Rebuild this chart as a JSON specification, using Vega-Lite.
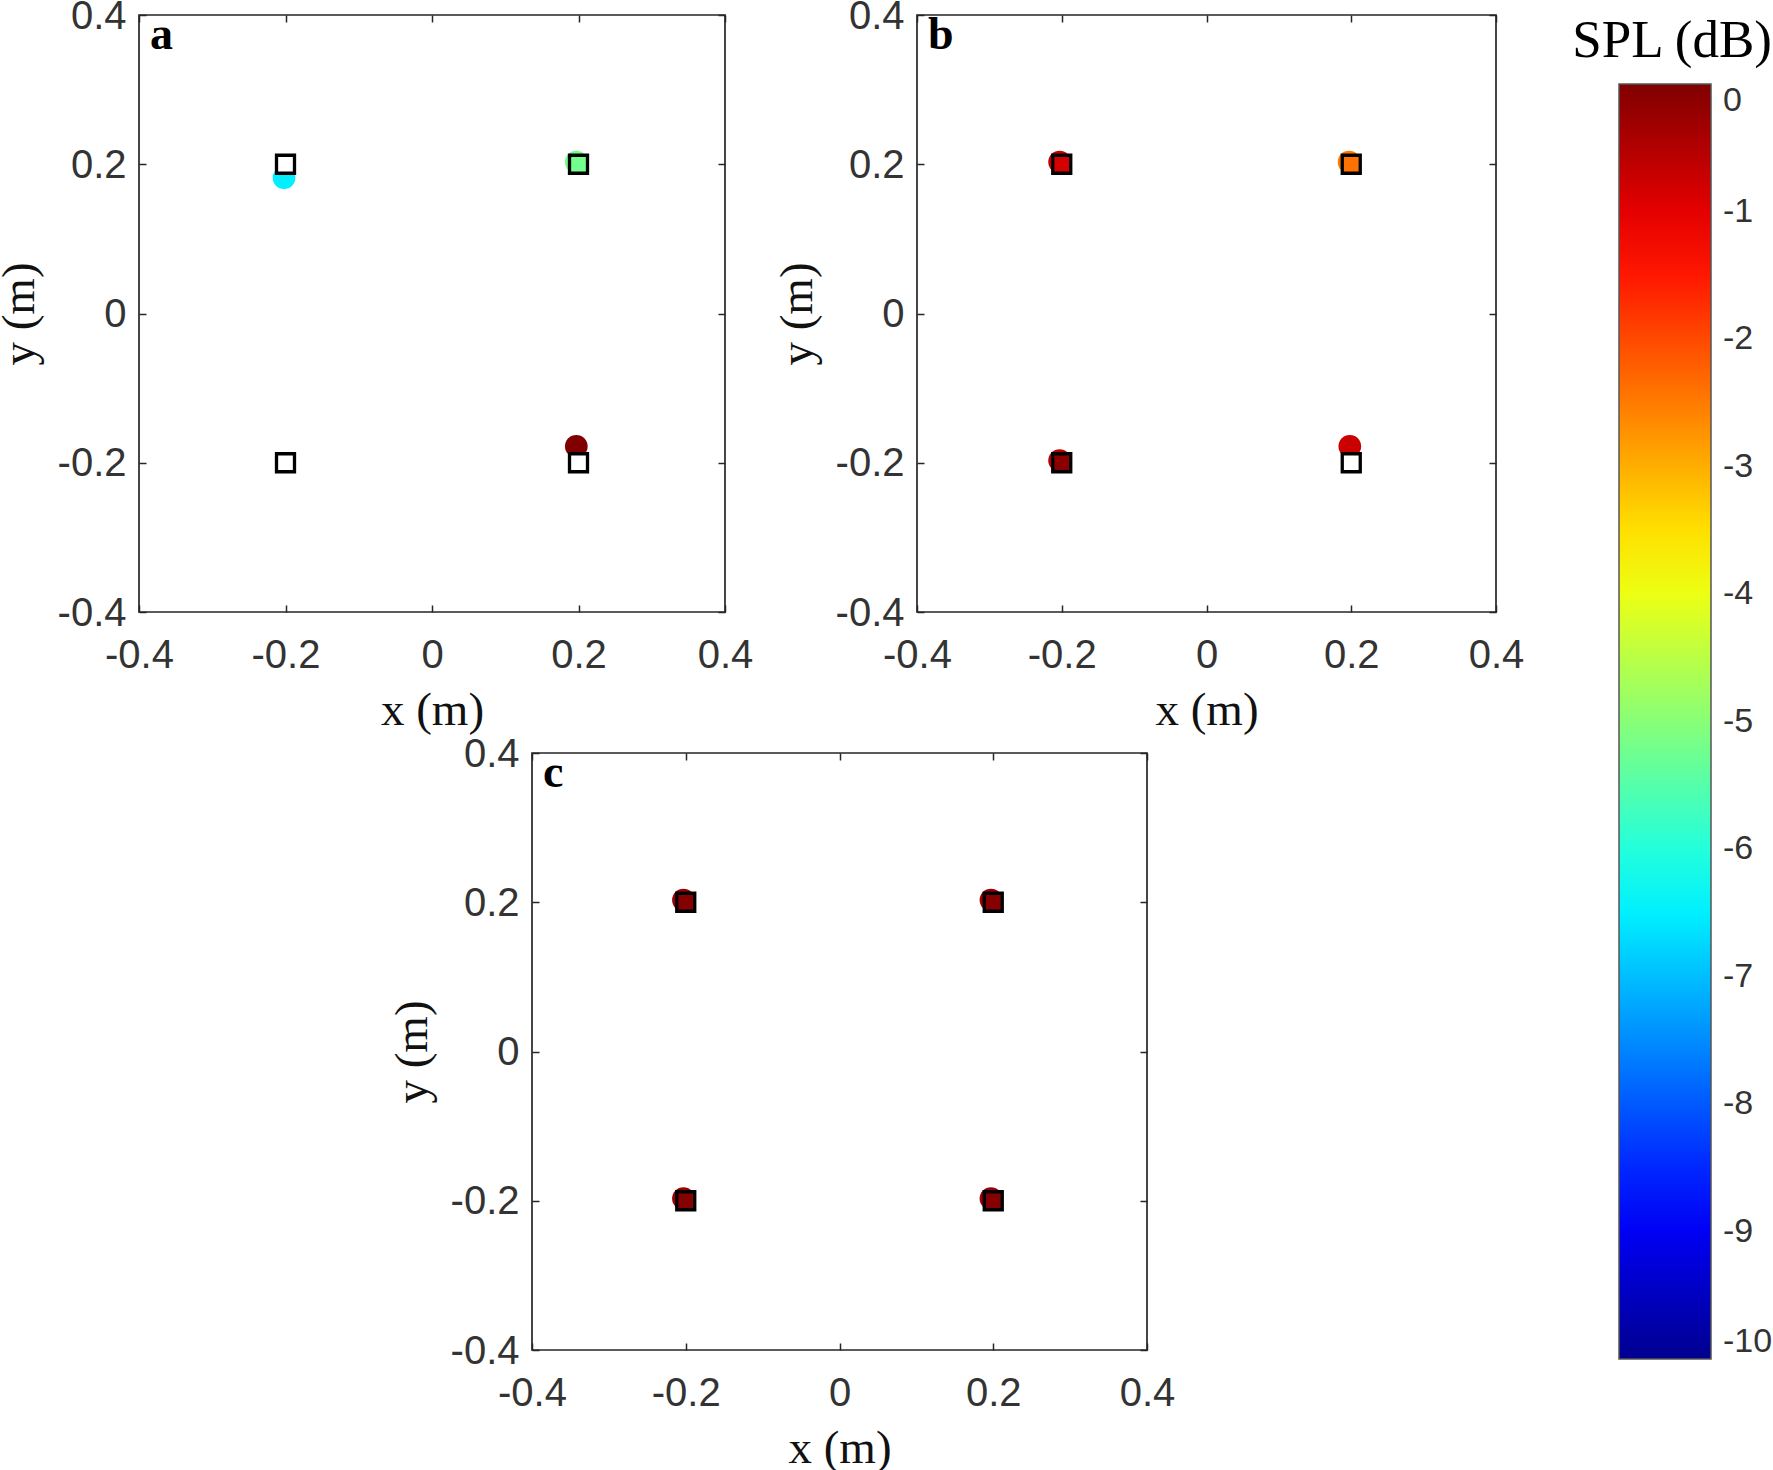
{
  "$schema": "https://vega.github.io/schema/vega-lite/v6.json",
  "padding": {"left": -6, "top": -5, "right": 0, "bottom": 0},
  "background": "white",
  "datasets": {
    "pts": [
      {"panel": "a", "kind": "circle", "x": -0.202, "y": 0.182, "spl": -6.5},
      {"panel": "a", "kind": "circle", "x": 0.197, "y": 0.203, "spl": -5.2},
      {"panel": "a", "kind": "circle", "x": 0.197, "y": -0.178, "spl": 0},
      {"panel": "a", "kind": "square", "x": -0.2, "y": 0.2, "spl": null},
      {"panel": "a", "kind": "square", "x": 0.2, "y": 0.2, "spl": -5.2},
      {"panel": "a", "kind": "square", "x": -0.2, "y": -0.2, "spl": null},
      {"panel": "a", "kind": "square", "x": 0.2, "y": -0.2, "spl": null},
      {"panel": "b", "kind": "circle", "x": -0.203, "y": 0.203, "spl": -0.7},
      {"panel": "b", "kind": "circle", "x": 0.197, "y": 0.203, "spl": -2.5},
      {"panel": "b", "kind": "circle", "x": -0.203, "y": -0.197, "spl": -0.6},
      {"panel": "b", "kind": "circle", "x": 0.198, "y": -0.178, "spl": -0.75},
      {"panel": "b", "kind": "square", "x": -0.2, "y": 0.2, "spl": -0.85},
      {"panel": "b", "kind": "square", "x": 0.2, "y": 0.2, "spl": -2.4},
      {"panel": "b", "kind": "square", "x": -0.2, "y": -0.2, "spl": -0.1},
      {"panel": "b", "kind": "square", "x": 0.2, "y": -0.2, "spl": null},
      {"panel": "c", "kind": "circle", "x": -0.203, "y": 0.203, "spl": -0.3},
      {"panel": "c", "kind": "circle", "x": 0.197, "y": 0.203, "spl": -0.3},
      {"panel": "c", "kind": "circle", "x": -0.203, "y": -0.197, "spl": -0.3},
      {"panel": "c", "kind": "circle", "x": 0.197, "y": -0.197, "spl": -0.3},
      {"panel": "c", "kind": "square", "x": -0.2, "y": 0.2, "spl": -0.05},
      {"panel": "c", "kind": "square", "x": 0.2, "y": 0.2, "spl": -0.05},
      {"panel": "c", "kind": "square", "x": -0.2, "y": -0.2, "spl": -0.05},
      {"panel": "c", "kind": "square", "x": 0.2, "y": -0.2, "spl": -0.05}
    ]
  },
  "vconcat": [
    {
      "hconcat": [
        {
          "width": 586, "height": 597,
          "data": {"name": "pts"},
          "transform": [{"filter": "datum.panel === 'a'"}],
          "resolve": {"axis": {"x": "independent", "y": "independent"}},
          "layer": [
            {
              "transform": [{"filter": "datum.kind === 'circle'"}],
              "mark": {"type": "point", "shape": "circle", "filled": true, "size": 515, "opacity": 1},
              "encoding": {
                "x": {"field": "x", "type": "quantitative", "scale": {"domain": [-0.4, 0.4], "nice": false, "zero": false}, "axis": {"orient": "bottom", "values": [-0.4, -0.2, 0, 0.2, 0.4], "labelExpr": "toString(datum.value)", "title": "x (m)"}},
                "y": {"field": "y", "type": "quantitative", "scale": {"domain": [-0.4, 0.4], "nice": false, "zero": false}, "axis": {"orient": "left", "values": [-0.4, -0.2, 0, 0.2, 0.4], "labelExpr": "toString(datum.value)", "title": "y (m)"}},
                "color": {"field": "spl", "type": "quantitative", "scale": {"type": "linear", "domain": [-10, -8.89, -6.35, -3.81, -1.27, 0], "range": ["#00008f", "#0000ff", "#00ffff", "#ffff00", "#ff0000", "#800000"], "interpolate": "rgb", "clamp": true}, "legend": {"type": "gradient", "orient": "none", "legendX": 1431, "legendY": 0, "offset": 0, "padding": 0, "direction": "vertical", "gradientLength": 1275, "gradientThickness": 92, "gradientStrokeColor": "#555555", "gradientStrokeWidth": 1.5, "values": [0, -1, -2, -3, -4, -5, -6, -7, -8, -9, -10], "labelExpr": "toString(datum.value)", "labelFont": "Liberation Sans", "labelFontSize": 34, "labelColor": "#333333", "labelOffset": 12, "labelOverlap": false, "title": "SPL (dB)", "titleFont": "Liberation Serif", "titleFontSize": 53, "titleFontWeight": "normal", "titleColor": "#000000", "titleAnchor": "end", "titleAlign": "right", "titlePadding": 16, "titleLimit": 400, "encode": {"labels": {"update": {"dy": {"signal": "datum.perc >= 0.999 ? -14 : (datum.perc <= 0.001 ? 20 : 0)"}}}}}}
              }
            },
            {
              "transform": [{"filter": "datum.kind === 'square' && datum.spl == null"}],
              "mark": {"type": "point", "shape": "square", "filled": true, "size": 324, "fill": "white", "stroke": "black", "strokeWidth": 3.3, "opacity": 1},
              "encoding": {
                "x": {"field": "x", "type": "quantitative", "axis": {"orient": "top", "values": [-0.4, -0.2, 0, 0.2, 0.4], "labels": false, "title": null}},
                "y": {"field": "y", "type": "quantitative", "axis": {"orient": "right", "values": [-0.4, -0.2, 0, 0.2, 0.4], "labels": false, "title": null}}
              }
            },
            {
              "transform": [{"filter": "datum.kind === 'square' && datum.spl != null"}],
              "mark": {"type": "point", "shape": "square", "filled": true, "size": 324, "stroke": "black", "strokeWidth": 3.3, "opacity": 1},
              "encoding": {
                "x": {"field": "x", "type": "quantitative", "axis": null},
                "y": {"field": "y", "type": "quantitative", "axis": null},
                "color": {"field": "spl", "type": "quantitative"}
              }
            },
            {
              "data": {"values": [{"label": "a"}]},
              "transform": [],
              "mark": {"type": "text", "font": "Liberation Serif", "fontWeight": "bold", "fontSize": 46, "align": "left", "baseline": "top", "dx": 11, "dy": -2, "color": "#000000"},
              "encoding": {
                "text": {"field": "label"},
                "x": {"datum": -0.4, "type": "quantitative", "axis": null},
                "y": {"datum": 0.4, "type": "quantitative", "axis": null}
              }
            }
          ]
        },
        {
          "width": 579, "height": 597,
          "data": {"name": "pts"},
          "transform": [{"filter": "datum.panel === 'b'"}],
          "resolve": {"axis": {"x": "independent", "y": "independent"}},
          "layer": [
            {
              "transform": [{"filter": "datum.kind === 'circle'"}],
              "mark": {"type": "point", "shape": "circle", "filled": true, "size": 515, "opacity": 1},
              "encoding": {
                "x": {"field": "x", "type": "quantitative", "scale": {"domain": [-0.4, 0.4], "nice": false, "zero": false}, "axis": {"orient": "bottom", "values": [-0.4, -0.2, 0, 0.2, 0.4], "labelExpr": "toString(datum.value)", "title": "x (m)"}},
                "y": {"field": "y", "type": "quantitative", "scale": {"domain": [-0.4, 0.4], "nice": false, "zero": false}, "axis": {"orient": "left", "values": [-0.4, -0.2, 0, 0.2, 0.4], "labelExpr": "toString(datum.value)", "title": "y (m)"}},
                "color": {"field": "spl", "type": "quantitative"}
              }
            },
            {
              "transform": [{"filter": "datum.kind === 'square' && datum.spl == null"}],
              "mark": {"type": "point", "shape": "square", "filled": true, "size": 324, "fill": "white", "stroke": "black", "strokeWidth": 3.3, "opacity": 1},
              "encoding": {
                "x": {"field": "x", "type": "quantitative", "axis": {"orient": "top", "values": [-0.4, -0.2, 0, 0.2, 0.4], "labels": false, "title": null}},
                "y": {"field": "y", "type": "quantitative", "axis": {"orient": "right", "values": [-0.4, -0.2, 0, 0.2, 0.4], "labels": false, "title": null}}
              }
            },
            {
              "transform": [{"filter": "datum.kind === 'square' && datum.spl != null"}],
              "mark": {"type": "point", "shape": "square", "filled": true, "size": 324, "stroke": "black", "strokeWidth": 3.3, "opacity": 1},
              "encoding": {
                "x": {"field": "x", "type": "quantitative", "axis": null},
                "y": {"field": "y", "type": "quantitative", "axis": null},
                "color": {"field": "spl", "type": "quantitative"}
              }
            },
            {
              "data": {"values": [{"label": "b"}]},
              "transform": [],
              "mark": {"type": "text", "font": "Liberation Serif", "fontWeight": "bold", "fontSize": 46, "align": "left", "baseline": "top", "dx": 11, "dy": -2, "color": "#000000"},
              "encoding": {
                "text": {"field": "label"},
                "x": {"datum": -0.4, "type": "quantitative", "axis": null},
                "y": {"datum": 0.4, "type": "quantitative", "axis": null}
              }
            }
          ]
        }
      ],
      "spacing": 18
    },
    {
      "hconcat": [
        {
          "width": 248, "height": 10,
          "data": {"values": []},
          "mark": "point",
          "view": {"stroke": null}
        },
        {
          "width": 615, "height": 597,
          "data": {"name": "pts"},
          "transform": [{"filter": "datum.panel === 'c'"}],
          "resolve": {"axis": {"x": "independent", "y": "independent"}},
          "layer": [
            {
              "transform": [{"filter": "datum.kind === 'circle'"}],
              "mark": {"type": "point", "shape": "circle", "filled": true, "size": 515, "opacity": 1},
              "encoding": {
                "x": {"field": "x", "type": "quantitative", "scale": {"domain": [-0.4, 0.4], "nice": false, "zero": false}, "axis": {"orient": "bottom", "values": [-0.4, -0.2, 0, 0.2, 0.4], "labelExpr": "toString(datum.value)", "title": "x (m)"}},
                "y": {"field": "y", "type": "quantitative", "scale": {"domain": [-0.4, 0.4], "nice": false, "zero": false}, "axis": {"orient": "left", "values": [-0.4, -0.2, 0, 0.2, 0.4], "labelExpr": "toString(datum.value)", "title": "y (m)"}},
                "color": {"field": "spl", "type": "quantitative"}
              }
            },
            {
              "transform": [{"filter": "datum.kind === 'square' && datum.spl == null"}],
              "mark": {"type": "point", "shape": "square", "filled": true, "size": 324, "fill": "white", "stroke": "black", "strokeWidth": 3.3, "opacity": 1},
              "encoding": {
                "x": {"field": "x", "type": "quantitative", "axis": {"orient": "top", "values": [-0.4, -0.2, 0, 0.2, 0.4], "labels": false, "title": null}},
                "y": {"field": "y", "type": "quantitative", "axis": {"orient": "right", "values": [-0.4, -0.2, 0, 0.2, 0.4], "labels": false, "title": null}}
              }
            },
            {
              "transform": [{"filter": "datum.kind === 'square' && datum.spl != null"}],
              "mark": {"type": "point", "shape": "square", "filled": true, "size": 324, "stroke": "black", "strokeWidth": 3.3, "opacity": 1},
              "encoding": {
                "x": {"field": "x", "type": "quantitative", "axis": null},
                "y": {"field": "y", "type": "quantitative", "axis": null},
                "color": {"field": "spl", "type": "quantitative"}
              }
            },
            {
              "data": {"values": [{"label": "c"}]},
              "transform": [],
              "mark": {"type": "text", "font": "Liberation Serif", "fontWeight": "bold", "fontSize": 46, "align": "left", "baseline": "top", "dx": 11, "dy": -2, "color": "#000000"},
              "encoding": {
                "text": {"field": "label"},
                "x": {"datum": -0.4, "type": "quantitative", "axis": null},
                "y": {"datum": 0.4, "type": "quantitative", "axis": null}
              }
            }
          ]
        }
      ],
      "spacing": 0
    }
  ],
  "spacing": -1,
  "config": {
    "view": {"stroke": "#262626", "strokeWidth": 1.7},
    "axis": {
      "domain": false,
      "grid": false,
      "ticks": true,
      "tickSize": -7,
      "tickColor": "#262626",
      "tickWidth": 1.5,
      "labelFont": "Liberation Sans",
      "labelFontSize": 40,
      "labelColor": "#333333",
      "labelOverlap": false,
      "labelFlush": false,
      "labelBound": false,
      "titleFont": "Liberation Serif",
      "titleFontSize": 47,
      "titleFontWeight": "normal",
      "titleColor": "#111111"
    },
    "axisX": {"labelPadding": 30, "titlePadding": 12},
    "axisY": {"labelPadding": 20, "titlePadding": 14, "labelOffset": 1}
  }
}
